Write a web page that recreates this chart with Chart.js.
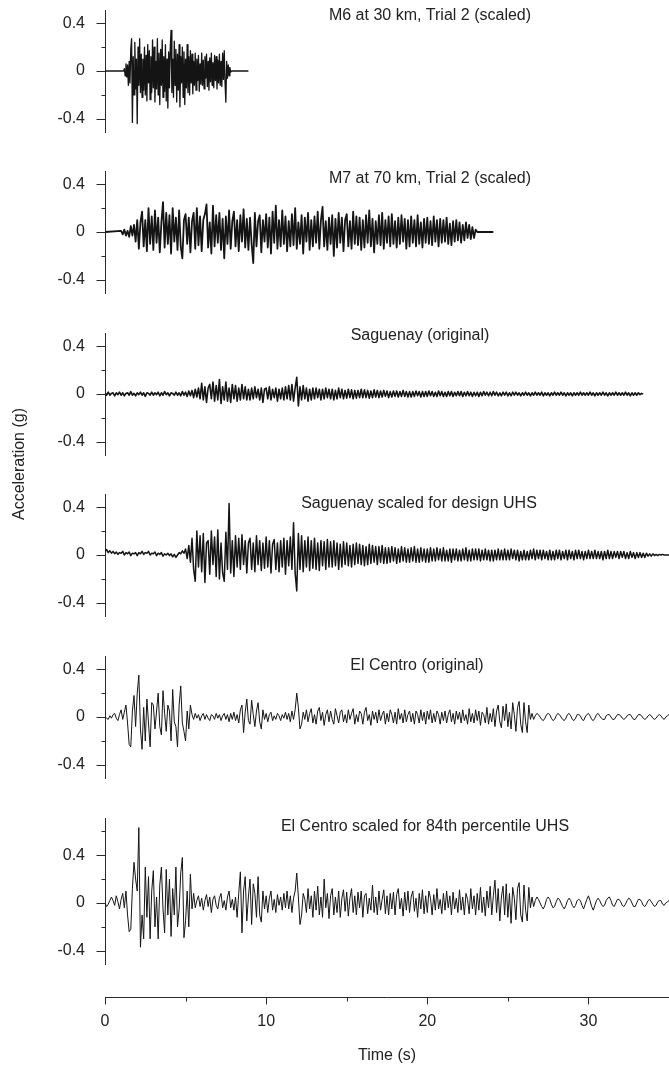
<!DOCTYPE html>
<html>
<head>
<meta charset="utf-8">
<title>Acceleration time histories</title>
<script src="https://cdn.jsdelivr.net/npm/chart.js@4.4.1/dist/chart.umd.min.js"></script>
<style>
  body { margin: 0; background: #fff; }
  #page { position: relative; width: 669px; height: 1067px; overflow: hidden; }
  #page canvas { position: absolute; left: 0; }
</style>
</head>
<body>
<div id="page"><canvas id="frame" width="669" height="1067" style="top:0"></canvas></div>
<script>
// time axis (s) and tick labels
const timeMax = 35;
const timeTicks = [0, 10, 20, 30];
const accTicks = [-0.4, 0, 0.4];

// M6 at 30 km, Trial 2 (scaled): acceleration (g) every 0.05 s from 1.15 s
const m6Start = 1.15, m6Step = 0.05, m6End = 8.9;
const m6Acc = [
  0,
  .02,-.04,.06,-.05,.05,-.12,.08,-.1,.18,.27,
  -.43,.12,-.2,.24,-.15,.1,-.44,.2,-.12,.27,
  -.18,.14,-.22,.1,-.16,.2,-.2,.13,-.25,.22,
  -.1,.17,-.24,.12,-.18,.26,-.14,.2,-.26,.08,
  -.15,.27,-.2,.15,-.28,.18,-.12,.26,-.22,.12,
  -.17,.22,-.25,.1,-.31,.16,-.14,.2,.34,-.18,
  .1,-.22,.25,-.12,.18,-.26,.14,-.16,.22,-.3,
  .12,-.1,.2,-.22,.16,-.28,.1,-.14,.22,-.18,
  .12,-.2,.17,-.1,.14,-.19,.08,-.12,.15,-.16,
  .1,-.08,.13,-.17,.06,-.11,.15,-.12,.09,-.15,
  .12,-.06,.14,-.13,.08,-.16,.11,-.09,.15,-.12,
  .07,-.14,.13,-.08,.12,-.15,.09,-.1,.14,-.12,
  .08,-.13,.15,-.07,.17,-.1,-.26,.08,-.06,.05,
  -.04,.03,-.01,0
];

// M7 at 70 km, Trial 2 (scaled): every 0.1 s from 1.0 s
const m7Start = 1.0, m7Step = 0.1, m7End = 24.1;
const m7Acc = [
  .01,-.02,.02,-.03,.01,-.04,.05,-.03,.06,-.08,
  .1,-.14,.08,.17,-.12,.1,-.16,.2,-.1,.13,
  -.15,.18,-.09,.12,-.17,.08,.25,-.13,.16,-.1,
  .14,-.18,.2,-.08,.12,-.15,.18,-.12,-.22,.1,
  .15,-.1,.12,-.17,.09,.16,-.14,.2,-.11,.13,
  -.16,.1,.15,.23,-.13,.08,-.18,.22,-.12,.14,
  -.09,.16,-.15,.11,-.22,.13,-.1,.18,-.14,.09,
  .17,-.12,.1,-.16,.14,-.08,.19,-.13,.11,-.15,
  .12,-.1,-.26,.16,-.12,.09,.14,-.17,.1,-.08,
  .15,-.13,.12,-.18,.17,-.09,.22,-.14,.1,-.12,
  .18,-.1,.13,-.16,.09,-.12,.15,-.11,.2,-.14,
  .08,-.1,.14,-.18,.12,-.08,.16,-.15,.1,-.12,
  .13,-.09,.17,-.14,.1,.21,-.12,.09,-.15,.12,
  -.1,.14,-.2,.11,-.13,.16,-.09,.12,-.16,.1,
  .15,-.12,.09,-.14,.17,-.1,.13,-.11,.12,-.15,
  .1,-.13,.14,-.09,.18,-.12,.11,-.17,.09,-.1,
  .14,-.11,.16,-.14,.1,-.09,.13,-.12,.15,-.1,
  .09,-.13,.12,-.1,.14,-.08,.11,-.14,.1,-.12,
  .13,-.09,.1,-.12,.14,-.1,.08,-.13,.11,-.09,
  .12,-.1,.09,-.11,.13,-.08,.1,-.12,.11,-.09,
  .1,-.08,.12,-.1,.07,-.11,.09,-.08,.1,-.07,
  .08,-.09,.06,-.07,.08,-.05,.06,-.06,.04,-.05,
  .02,0
];

// Saguenay (original): every 0.1 s from 0 s
const sagStart = 0, sagStep = 0.1;
const sagAcc = [
  .01,-.01,.015,-.01,.005,.01,-.015,.01,-.005,.015,
  -.01,.01,-.015,.005,.01,-.01,.02,-.01,.005,-.015,
  .01,-.005,.015,-.01,.01,-.02,.01,.005,-.01,.015,
  -.01,.01,-.005,.015,-.015,.01,-.01,.02,-.005,.01,
  -.015,.01,.005,-.01,.015,-.01,.01,-.015,.02,-.01,
  .015,-.02,.025,-.015,.03,-.03,.04,-.025,.05,-.04,
  .09,-.05,.06,-.07,.05,.08,-.04,.1,-.06,.07,
  -.05,.12,-.08,.06,-.05,.1,-.06,.05,-.07,.08,
  -.04,.07,-.06,.05,-.05,.08,-.04,.06,-.05,.04,
  -.05,.05,-.04,.06,-.03,.04,-.05,.05,-.07,.04,
  .05,-.04,.06,-.05,.04,-.03,.05,-.06,.04,-.04,
  .05,-.05,.06,-.04,.07,-.05,.08,-.06,.05,.14,
  -.1,.06,-.05,.07,-.04,.05,-.06,.04,-.05,.05,
  -.04,.05,-.03,.04,-.05,.04,-.04,.05,-.03,.04,
  -.04,.04,-.05,.03,-.04,.05,-.03,.04,-.04,.03,
  -.035,.04,-.03,.035,-.04,.03,-.035,.03,-.03,.04,
  -.03,.035,-.03,.03,-.035,.025,-.03,.035,-.025,.03,
  -.03,.025,-.025,.03,-.02,.025,-.03,.02,-.025,.025,
  -.02,.025,-.025,.02,-.02,.03,-.02,.02,-.025,.02,
  -.025,.02,-.02,.025,-.015,.02,-.025,.02,-.02,.02,
  -.02,.025,-.015,.02,-.02,.015,-.02,.025,-.015,.02,
  -.02,.015,-.02,.02,-.015,.02,-.02,.015,-.015,.02,
  -.015,.02,-.02,.015,-.015,.02,-.015,.015,-.02,.015,
  -.015,.015,-.02,.015,-.015,.02,-.01,.015,-.015,.015,
  -.015,.02,-.01,.015,-.015,.01,-.015,.015,-.01,.015,
  -.015,.01,-.015,.015,-.01,.015,-.01,.01,-.015,.01,
  -.01,.015,-.01,.01,-.015,.01,-.01,.015,-.01,.01,
  -.01,.015,-.015,.01,-.01,.01,-.015,.01,-.01,.015,
  -.01,.01,-.01,.015,-.01,.01,-.015,.01,-.01,.01,
  -.015,.01,-.01,.01,-.01,.015,-.01,.01,-.01,.01,
  -.01,.015,-.01,.01,-.015,.01,-.01,.01,-.01,.015,
  -.01,.01,-.015,.01,-.01,.01,-.01,.015,-.01,.01,
  -.01,.01,-.01,.015,-.01,.01,-.015,.01,-.01,.01,
  -.01,.01,-.005,.005,0
];

// Saguenay scaled for design UHS: every 0.1 s from 0 s
const sagUhsStart = 0, sagUhsStep = 0.1;
const sagUhsAcc = [
  .03,.045,.02,.035,.015,.03,.01,.025,.005,.02,
  .015,.03,0,.02,.01,.025,-.005,.015,.01,.02,
  -.005,.02,.01,.03,.005,.02,.015,.03,0,.015,
  .01,.025,-.005,.015,.005,.02,-.01,.01,0,.015,
  -.005,.01,-.015,.005,-.02,0,.02,.01,.035,.015,
  .05,-.03,.08,-.06,.14,-.12,-.22,.2,-.1,.16,
  -.14,.18,-.23,.1,.12,-.16,.2,-.08,.15,-.18,
  .21,-.2,.1,-.15,-.22,.19,-.12,.43,-.15,.12,
  -.18,.16,-.1,.14,-.12,.17,-.08,.12,-.15,.1,
  .14,-.12,.1,-.14,.16,-.08,.12,-.13,.1,-.11,
  .15,-.1,.12,-.15,.09,.13,-.12,.1,-.14,.12,
  -.1,.14,-.16,.12,-.09,.15,-.12,.27,-.15,-.3,
  .18,-.12,.16,-.14,.12,-.1,.15,-.13,.12,-.11,
  .14,-.12,.1,-.13,.12,-.09,.11,-.12,.13,-.1,
  .11,-.1,.12,-.09,.1,-.12,.09,-.1,.11,-.08,
  .1,-.09,.08,-.1,.09,-.08,.1,-.07,.09,-.08,
  .08,-.09,.07,-.08,.09,-.07,.08,-.06,.07,-.08,
  .07,-.06,.08,-.07,.06,-.07,.06,-.06,.07,-.05,
  .06,-.07,.05,-.06,.07,-.05,.06,-.06,.05,-.06,
  .06,-.05,.07,-.06,.05,-.06,.06,-.05,.05,-.06,
  .05,-.06,.06,-.05,.05,-.05,.06,-.04,.05,-.05,
  .06,-.05,.04,-.05,.05,-.06,.05,-.04,.05,-.05,
  .04,-.05,.05,-.04,.06,-.05,.04,-.05,.05,-.04,
  .05,-.04,.05,-.05,.04,-.04,.05,-.04,.04,-.05,
  .04,-.05,.04,-.04,.05,-.04,.04,-.04,.05,-.04,
  .04,-.04,.05,-.03,.04,-.04,.04,-.05,.03,-.04,
  .04,-.04,.03,-.04,.04,-.03,.05,-.04,.04,-.03,
  .04,-.04,.04,-.03,.03,-.04,.04,-.04,.03,-.04,
  .04,-.03,.04,-.04,.03,-.03,.04,-.04,.04,-.03,
  .03,-.04,.04,-.03,.04,-.03,.03,-.04,.03,-.03,
  .04,-.03,.03,-.03,.04,-.03,.03,-.03,.03,-.04,
  .03,-.03,.04,-.03,.03,-.03,.03,-.02,.03,-.03,
  .03,-.02,.03,-.03,.02,-.03,.03,-.02,.02,-.03,
  .02,-.02,.02,-.02,.015,-.02,.015,-.01,.01,-.01,
  .01,-.005,.005,-.005,.005,0,.005,0,0,0,
  0
];

// El Centro (original): every 0.1 s from 0 s
const ecStart = 0, ecStep = 0.1;
const ecAcc = [
  0,-.01,-.02,.01,-.01,.02,.03,-.01,-.03,.02,
  .06,-.02,.04,.1,-.05,-.23,-.25,.05,.18,-.08,
  .2,.35,-.1,-.27,.08,-.2,.15,-.05,-.25,.12,
  .1,-.1,.05,.2,-.08,-.15,.22,.03,-.12,.1,
  .05,-.2,.23,-.04,-.08,-.25,.1,.26,-.05,-.12,
  -.2,.05,-.1,.1,.02,-.02,.03,-.01,.02,-.03,
  .01,.03,-.02,.02,-.01,-.03,.02,.01,-.02,.03,
  -.01,.02,-.03,.01,.03,-.02,.02,-.04,.03,-.02,
  .04,-.03,.02,-.05,.06,.1,-.13,.04,.15,-.03,
  -.06,.14,.02,-.08,.05,.12,-.04,-.1,.06,-.02,
  .03,-.04,.02,.04,-.03,.01,-.02,.03,.01,-.03,
  .02,-.01,.04,-.02,.03,-.04,.05,-.02,.06,.2,
  .08,-.1,-.06,.04,-.02,.06,-.04,.03,.07,-.05,
  .02,-.06,.05,.08,-.03,.04,-.07,.02,.06,-.04,
  .05,-.02,-.06,.07,.01,-.05,.04,.06,-.04,.02,
  -.05,.06,-.02,.03,.07,-.06,.02,-.04,.05,.03,
  -.06,.04,.08,-.03,.02,-.07,.05,-.02,.04,-.05,
  .06,-.03,.02,.05,-.06,.03,-.04,.06,.02,-.05,
  .04,-.06,.07,-.02,.03,-.05,.06,-.04,.02,.05,
  -.04,.03,-.06,.05,.02,-.05,.06,-.03,.04,-.06,
  .05,-.02,.06,-.05,.03,-.04,.05,.02,-.06,.04,
  -.03,.05,-.05,.02,.06,-.04,.03,-.06,.05,-.02,
  .04,-.05,.06,-.03,.02,-.06,.07,-.04,.03,-.05,
  .06,-.03,.05,-.07,.04,.02,-.05,.08,-.06,.03,
  -.04,.07,-.08,.05,.1,-.04,-.09,.09,-.03,.11,
  -.08,.04,-.1,.12,.02,-.12,.08,.13,-.06,-.13,
  .12,-.04,-.13,.1,-.02,.03,-.02,.01,.03,.02,
  0,-.02,-.03,-.01,.02,.03,.02,-.01,-.03,-.02,
  .01,.03,.02,0,-.02,-.03,-.01,.02,.03,.01,
  -.02,-.03,-.01,.02,.02,.01,-.02,-.03,0,.02,
  .03,.01,-.02,-.03,-.01,.02,.03,.01,-.01,-.02,
  -.02,.01,.02,.02,0,-.02,-.02,0,.02,.02,
  .01,-.01,-.02,-.01,.01,.02,.02,0,-.02,-.02,
  0,.02,.02,.01,-.01,-.02,-.01,.01,.02,.01,
  -.01,-.02,-.01,.01,.02,.01,-.01,-.02,0,.01,
  .02
];

// El Centro scaled for 84th percentile UHS: every 0.1 s from 0 s
const ecUhsStart = 0, ecUhsStep = 0.1;
const ecUhsAcc = [
  0,-.03,-.01,.02,.05,.02,-.02,.06,.01,-.05,
  .03,.08,-.04,.1,-.1,-.24,-.22,.12,.34,.2,
  .1,.63,-.37,-.1,-.3,.3,-.12,.22,-.3,.1,
  .27,-.2,.05,-.3,.15,.3,-.05,-.25,.28,-.1,
  .2,-.28,.12,-.1,.3,-.2,-.05,.25,.38,-.29,
  -.15,.1,-.2,.24,-.05,.08,-.04,.02,.06,-.03,
  .04,-.06,.02,.07,-.03,.05,-.08,.03,.06,-.02,
  -.05,.04,.08,-.04,.02,-.06,.05,.1,-.04,.03,
  -.06,.05,-.12,.08,.26,-.25,.1,.22,-.15,.05,
  .2,-.18,.16,.08,-.12,.22,-.1,-.16,.1,-.05,
  .06,-.08,.04,.1,-.06,.03,-.08,.07,-.02,.05,
  -.06,.08,-.04,.1,-.05,.06,-.08,.04,.1,.25,
  .05,-.18,-.1,.08,.03,-.08,.12,-.05,.06,-.12,
  .1,-.06,.14,-.1,.05,-.12,.2,-.04,.08,-.13,
  .06,.12,-.1,.05,-.08,.1,-.12,.04,.11,-.07,
  .09,-.11,.04,.12,-.08,.06,-.1,.09,-.04,.1,
  -.12,.06,.08,-.09,.04,-.06,.15,-.08,.05,-.1,
  .1,-.06,.03,.11,-.09,.06,-.1,.08,-.05,.09,
  -.1,.07,.12,-.05,.04,-.11,.09,-.06,.1,-.08,
  .05,.1,-.07,.04,-.12,.08,-.05,.11,-.09,.06,
  -.08,.1,.04,-.1,.07,-.06,.12,-.05,.03,-.09,
  .08,-.06,.1,-.04,.06,-.1,.09,-.05,.04,-.08,
  .11,-.06,.05,-.1,.08,.03,-.09,.12,-.05,.06,
  -.1,.08,-.06,.13,-.08,.05,-.11,.1,-.04,.14,
  -.1,.06,.19,-.08,.12,-.15,.05,.14,-.1,.16,
  -.12,.08,-.17,.13,.04,-.14,.12,.17,-.1,-.16,
  .15,-.06,-.15,.13,-.04,.05,-.03,.02,.05,.03,
  0,-.03,-.05,-.02,.03,.05,.03,-.01,-.04,-.03,
  .01,.04,.03,0,-.03,-.05,-.02,.02,.04,.02,
  -.02,-.04,-.02,.02,.03,.02,-.02,-.05,-.01,.03,
  .06,.02,-.03,-.06,-.02,.02,.04,.02,-.01,-.03,
  -.02,.02,.04,.05,.02,-.02,-.03,0,.03,.03,
  .01,-.02,-.03,-.01,.02,.04,.03,0,-.03,-.03,
  0,.03,.03,.01,-.02,-.03,-.01,.02,.03,.01,
  -.01,-.03,-.02,.01,.02,.02,-.01,-.02,0,.01,
  .02
];

const axisColor = '#2a2a2a';
const traceColor = '#141414';
const textColor = '#222';
const fontFamily = "'Liberation Sans', Arial, Helvetica, sans-serif";
Chart.defaults.font.family = fontFamily;
Chart.defaults.color = textColor;

function series(start, step, vals, end) {
  const pts = vals.map((v, i) => ({x: start + i * step, y: v}));
  if (start > 0) pts.unshift({x: 0, y: 0});
  if (end) pts.push({x: end, y: 0});
  return pts;
}

// long ticks where there is a label, short ones between
const tickMarks = {
  id: 'tickMarks',
  afterDraw(chart) {
    const ctx = chart.ctx;
    ctx.save();
    ctx.strokeStyle = axisColor;
    ctx.lineWidth = 1;
    ctx.beginPath();
    for (const scale of Object.values(chart.scales)) {
      if (!scale.options.display) continue;
      for (const t of scale.ticks) {
        const p = Math.round(scale.getPixelForValue(t.value)) + 0.5;
        if (scale.axis === 'y') {
          const len = t.label !== '' ? 9 : 4;
          const x = Math.round(scale.right) + 0.5;
          ctx.moveTo(x - len, p);
          ctx.lineTo(x, p);
        } else {
          if (t.value > timeMax - 0.5) continue;
          const len = t.label !== '' ? 7 : 4;
          const y = Math.round(scale.top) + 0.5;
          ctx.moveTo(p, y);
          ctx.lineTo(p, y + len);
        }
      }
    }
    ctx.stroke();
    ctx.restore();
  }
};

const panelTitle = {
  id: 'panelTitle',
  afterDraw(chart, args, opts) {
    if (!opts.text) return;
    const ctx = chart.ctx;
    ctx.save();
    ctx.font = opts.size + 'px ' + fontFamily;
    ctx.fillStyle = textColor;
    ctx.textAlign = 'center';
    ctx.textBaseline = 'middle';
    if (opts.rotate) {
      ctx.translate(opts.x, opts.y);
      ctx.rotate(-Math.PI / 2);
      ctx.fillText(opts.text, 0, 0);
    } else {
      ctx.fillText(opts.text, opts.x, opts.y);
    }
    ctx.restore();
  }
};

// frame: time axis and the shared y label
new Chart(document.getElementById('frame'), {
  type: 'line',
  data: {datasets: []},
  options: {
    responsive: false, animation: false, devicePixelRatio: 1, events: [],
    layout: {padding: {left: 105, right: 0, top: 0, bottom: 0}},
    plugins: {
      legend: {display: false}, tooltip: {enabled: false},
      panelTitle: {text: 'Acceleration (g)', x: 20, y: 464, size: 16, rotate: true}
    },
    scales: {
      x: {
        type: 'linear', position: 'bottom', min: 0, max: timeMax,
        afterFit(s) { s.height = 70; s.paddingLeft = 0; s.paddingRight = 0; },
        grid: {display: false, drawTicks: false},
        border: {color: axisColor, width: 1},
        ticks: {
          stepSize: 5, autoSkip: false, maxRotation: 0, padding: 15,
          font: {size: 16}, color: textColor,
          callback: v => timeTicks.includes(v) ? String(v) : ''
        },
        title: {display: true, text: 'Time (s)', font: {size: 16}, color: textColor, padding: {top: 0, bottom: 2}}
      },
      y: {display: false, min: -1, max: 1}
    }
  },
  plugins: [tickMarks, panelTitle]
});

const pxPerG = 120;
const panels = [
  {title: 'M6 at 30 km, Trial 2 (scaled)', zero: 71, yMax: 0.51, tx: 430, ty: 16, lw: 1.3,
   data: series(m6Start, m6Step, m6Acc, m6End)},
  {title: 'M7 at 70 km, Trial 2 (scaled)', zero: 232, yMax: 0.51, tx: 430, ty: 179, lw: 1.8,
   data: series(m7Start, m7Step, m7Acc, m7End)},
  {title: 'Saguenay (original)', zero: 394, yMax: 0.51, tx: 420, ty: 336, lw: 1.6,
   data: series(sagStart, sagStep, sagAcc)},
  {title: 'Saguenay scaled for design UHS', zero: 555, yMax: 0.51, tx: 419, ty: 504, lw: 1.5,
   data: series(sagUhsStart, sagUhsStep, sagUhsAcc)},
  {title: 'El Centro (original)', zero: 717, yMax: 0.51, tx: 417, ty: 666, lw: 1,
   data: series(ecStart, ecStep, ecAcc)},
  {title: 'El Centro scaled for 84th percentile UHS', zero: 903, yMax: 0.71, tx: 425, ty: 827, lw: 1,
   data: series(ecUhsStart, ecUhsStep, ecUhsAcc)}
];
const yMin = -0.51;

const page = document.getElementById('page');
panels.forEach(p => {
  const areaTop = Math.round(p.zero - p.yMax * pxPerG);
  const areaBot = Math.round(p.zero - yMin * pxPerG);
  const pad = Math.min(14, areaTop);
  const top = areaTop - pad;
  const cv = document.createElement('canvas');
  cv.width = 669;
  cv.height = areaBot - areaTop + pad + 8;
  cv.style.top = top + 'px';
  page.appendChild(cv);
  new Chart(cv, {
    type: 'line',
    data: {datasets: [{
      data: p.data, parsing: false, borderColor: traceColor, borderWidth: p.lw,
      pointRadius: 0, borderJoinStyle: 'round', tension: 0, fill: false
    }]},
    options: {
      responsive: false, animation: false, devicePixelRatio: 1, events: [],
      layout: {padding: {top: pad, bottom: 8, left: 0, right: 0}},
      plugins: {
        legend: {display: false}, tooltip: {enabled: false},
        panelTitle: {text: p.title, x: p.tx, y: p.ty - top, size: 16}
      },
      scales: {
        x: {type: 'linear', display: false, min: 0, max: timeMax},
        y: {
          min: yMin, max: p.yMax,
          afterFit(s) { s.width = 105; s.paddingTop = 0; s.paddingBottom = 0; },
          grid: {display: false, drawTicks: false},
          border: {color: axisColor, width: 1},
          ticks: {
            stepSize: 0.2, includeBounds: false, padding: 20, autoSkip: false,
            font: {size: 16}, color: textColor,
            callback: v => {
              const a = accTicks.find(t => Math.abs(t - v) < 1e-6);
              return a === undefined ? '' : String(a);
            }
          }
        }
      }
    },
    plugins: [tickMarks, panelTitle]
  });
});
</script>
</body>
</html>
